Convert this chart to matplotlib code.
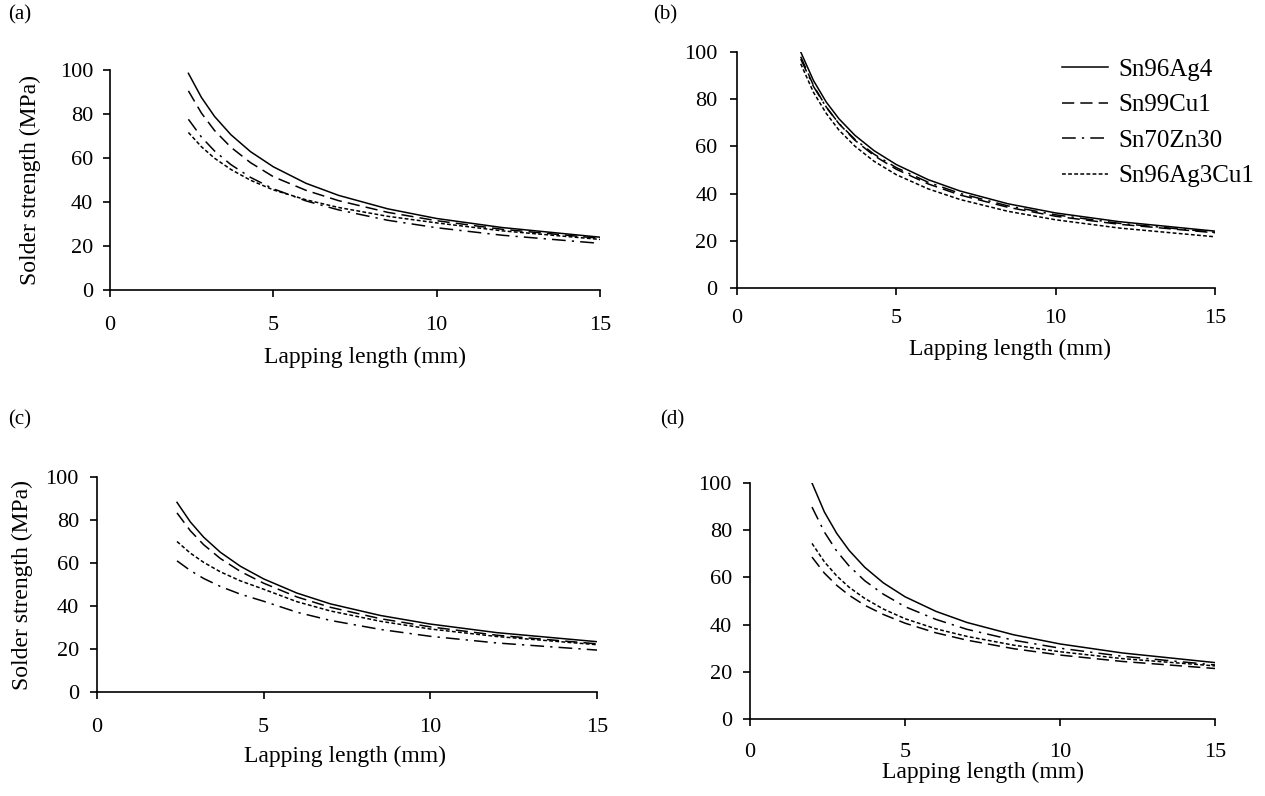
import matplotlib
matplotlib.use("Agg")
import matplotlib.pyplot as plt

plt.rcParams["font.family"] = ["Liberation Serif", "DejaVu Serif"]

ALLOYS = ["Sn96Ag4", "Sn99Cu1", "Sn70Zn30", "Sn96Ag3Cu1"]

# lapping length grids (mm)
x_ac = [2.4, 2.8, 3.2, 3.7, 4.3, 5, 6, 7, 8.5, 10, 12, 15]
x_bd = [2.0, 2.4, 2.8, 3.2, 3.7, 4.3, 5, 6, 7, 8.5, 10, 12, 15]

# solder strength (MPa), one list per alloy, panel (a)
a_ag4 = [98.5, 87.5, 78.9, 70.6, 62.9, 56.0, 48.5, 43.0, 36.9, 32.5, 28.4, 24.0]
a_cu1 = [90.5, 80.4, 72.5, 64.9, 57.9, 51.5, 45.3, 40.6, 35.3, 31.5, 27.6, 23.5]
a_zn30 = [77.6, 69.5, 63.2, 57.0, 51.2, 46.0, 40.5, 36.4, 31.7, 28.3, 24.9, 21.2]
a_ag3cu1 = [71.6, 65.1, 59.9, 54.8, 49.9, 45.5, 41.0, 37.5, 33.5, 30.5, 26.9, 23.0]

# panel (b)
b_ag4 = [100.0, 87.9, 78.8, 71.7, 64.7, 58.2, 52.3, 45.9, 41.1, 35.7, 31.8, 28.1, 24.1]
b_cu1 = [98.0, 85.8, 76.7, 69.6, 62.6, 56.1, 50.3, 44.1, 39.4, 34.2, 30.4, 27.0, 23.4]
b_zn30 = [97.0, 85.4, 76.6, 69.7, 63.0, 56.7, 51.0, 44.8, 40.1, 34.8, 31.0, 27.4, 23.6]
b_ag3cu1 = [95.0, 82.9, 74.0, 66.9, 60.1, 53.7, 48.0, 42.0, 37.5, 32.5, 28.9, 25.4, 21.7]

# panel (c)
c_ag4 = [88.2, 79.1, 72.0, 65.0, 58.5, 52.6, 46.0, 41.0, 35.6, 31.6, 27.6, 23.4]
c_cu1 = [83.3, 75.0, 68.5, 62.1, 56.1, 50.6, 44.2, 39.4, 34.1, 30.3, 26.4, 22.4]
c_zn30 = [61.0, 56.5, 52.8, 49.1, 45.5, 42.2, 37.1, 33.3, 29.1, 25.9, 22.8, 19.5]
c_ag3cu1 = [70.0, 64.6, 60.3, 55.9, 51.7, 47.8, 42.0, 37.7, 32.9, 29.3, 25.8, 22.0]

# panel (d)
d_ag4 = [100.0, 87.7, 78.6, 71.4, 64.3, 57.7, 51.8, 45.6, 40.9, 35.7, 31.8, 28.0, 23.9]
d_cu1 = [68.6, 61.8, 56.6, 52.4, 48.2, 44.3, 40.6, 36.5, 33.4, 29.8, 27.1, 24.4, 21.4]
d_zn30 = [89.8, 79.2, 71.1, 64.8, 58.6, 52.9, 47.6, 42.2, 38.0, 33.4, 30.0, 26.6, 22.9]
d_ag3cu1 = [74.4, 66.6, 60.6, 55.8, 51.1, 46.6, 42.5, 38.2, 35.0, 31.3, 28.5, 25.6, 22.5]

DASHES = [None, (8, 4), (9, 4, 1.5, 4), (2.5, 1.5)]

W, H = 1265, 796
fig = plt.figure(figsize=(W / 100, H / 100), dpi=100)


def px_axes(left, right, top, bottom):
    return fig.add_axes([left / W, (H - bottom) / H, (right - left) / W, (bottom - top) / H])


# tag, axes box (px), x grid, series, y-label centre x (or None), tag position,
# x-label (centre x, top y), x tick pad, y tick pad
panels = [
    ("(a)", (110, 600, 70, 290), x_ac, [a_ag4, a_cu1, a_zn30, a_ag3cu1], 30, (8, 15), (365, 347), 14, 7),
    ("(b)", (737, 1215, 52, 288), x_bd, [b_ag4, b_cu1, b_zn30, b_ag3cu1], None, (653, 15), (1010, 339), 10, 9),
    ("(c)", (97, 597, 477, 692), x_ac, [c_ag4, c_cu1, c_zn30, c_ag3cu1], 22, (8, 420), (345, 746), 14, 8),
    ("(d)", (750, 1215, 483, 719), x_bd, [d_ag4, d_cu1, d_zn30, d_ag3cu1], None, (660, 420), (983, 762), 12, 8),
]

for tag, box, xs, series, ylab_x, tpos, xl, xpad, ypad in panels:
    left, right, top, bottom = box
    ax = px_axes(*box)
    for name, ys, dash in zip(ALLOYS, series, DASHES):
        line, = ax.plot(xs, ys, color="black", lw=1.1, label=name)
        if dash is not None:
            line.set_dashes(dash)
    ax.set_xlim(0, 15)
    ax.set_ylim(0, 100)
    ax.set_xticks([0, 5, 10, 15])
    ax.set_yticks(range(0, 101, 20))
    ax.spines["top"].set_visible(False)
    ax.spines["right"].set_visible(False)
    ax.spines["left"].set_linewidth(1.2)
    ax.spines["bottom"].set_linewidth(1.2)
    ax.tick_params(labelsize=16, length=5, width=1.2)
    ax.tick_params(axis="x", pad=xpad)
    ax.tick_params(axis="y", pad=ypad)
    ax.set_xlabel("Lapping length (mm)", fontsize=17)
    ax.xaxis.set_label_coords((xl[0] - left) / (right - left), (bottom - xl[1]) / (bottom - top))
    if ylab_x is not None:
        ax.set_ylabel("Solder strength (MPa)", fontsize=17, va="center")
        ax.yaxis.set_label_coords((ylab_x - left) / (right - left), 0.5)
    fig.text(tpos[0] / W, 1 - tpos[1] / H, tag, fontsize=15, va="center", ha="left")
    if tag == "(b)":
        ax.legend(loc="upper left", frameon=False, fontsize=18, handlelength=1.85,
                  handletextpad=0.4, labelspacing=0.52, borderpad=0.0, borderaxespad=0.0,
                  bbox_to_anchor=((1062 - left) / (right - left), 0.973))

fig.savefig("out.png", dpi=100)
